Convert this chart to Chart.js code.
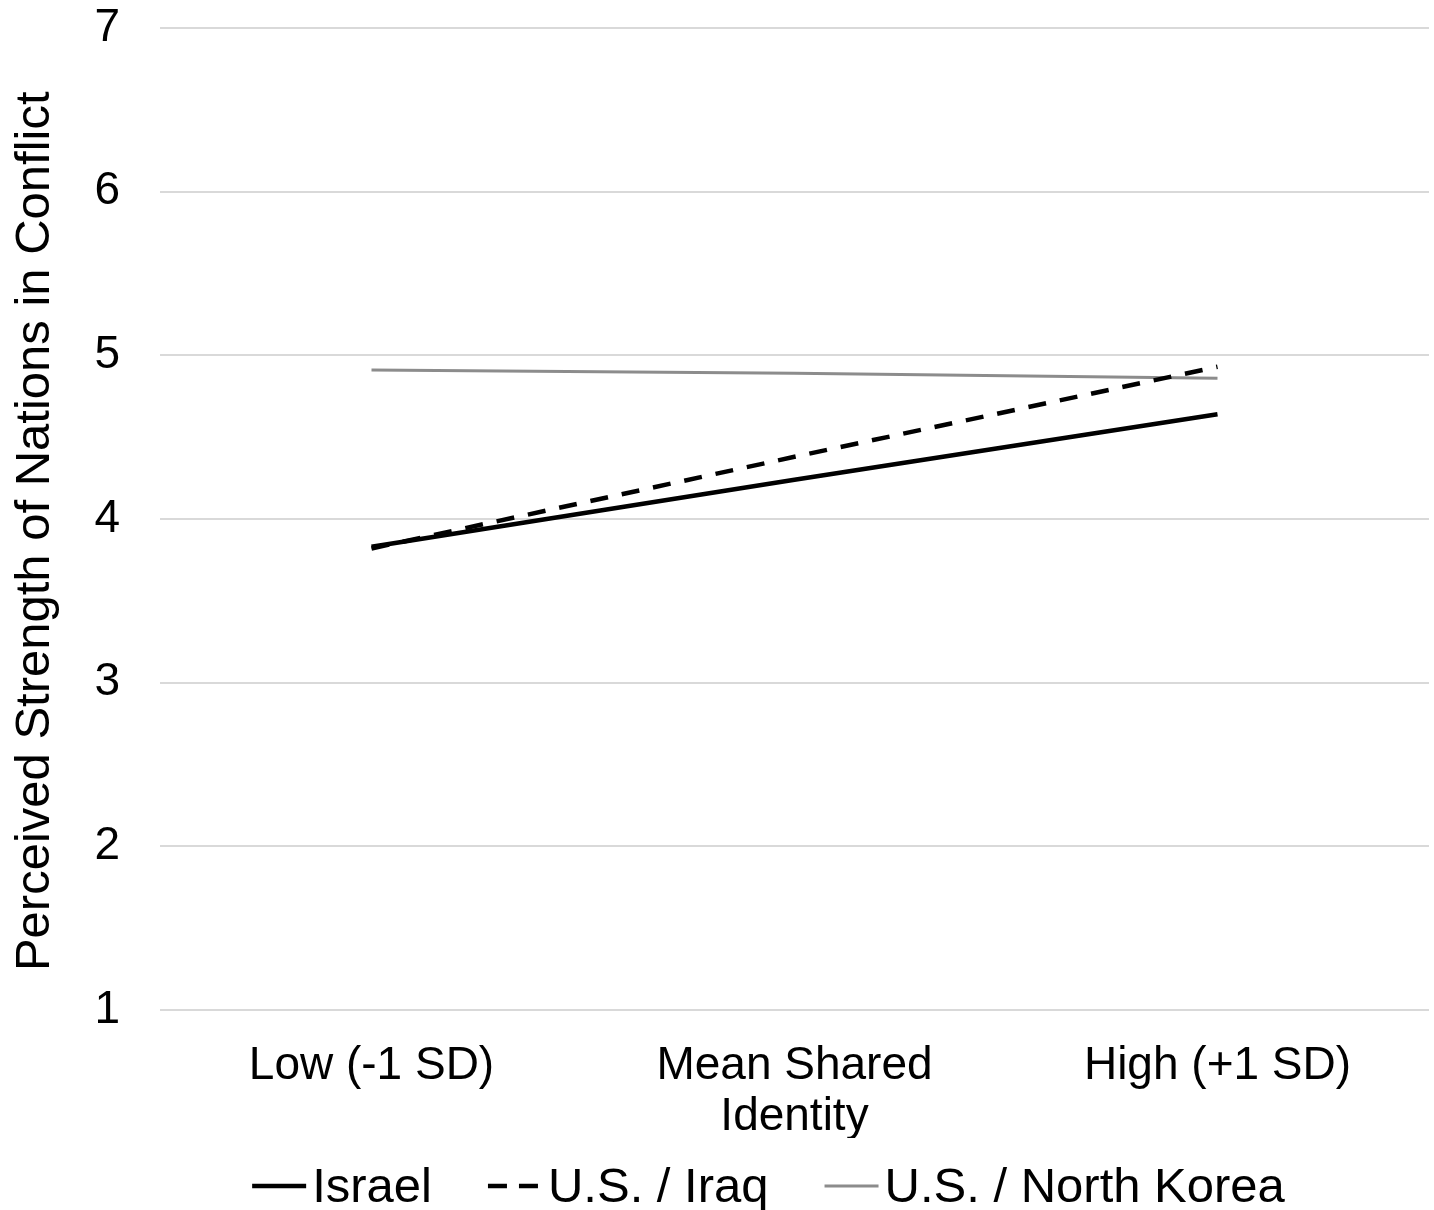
<!DOCTYPE html>
<html>
<head>
<meta charset="utf-8">
<script src="https://cdn.jsdelivr.net/npm/chart.js@4/dist/chart.umd.min.js"></script>
<style>
    html, body { margin: 0; padding: 0; background: #fff; }
    #wrap { width: 1434px; height: 1210px; }
</style>
</head>
<body>
<div id="wrap"><canvas id="chart"></canvas></div>
<script>
// Data
const categories = [['Low (-1 SD)'], ['Mean Shared', 'Identity'], ['High (+1 SD)']];
const israel = [3.83, 4.24, 4.64];
const usIraq = [3.82, 4.38, 4.93];
const usNorthKorea = [4.91, 4.89, 4.86];
const yTicks = [1, 2, 3, 4, 5, 6, 7];

const font = 'Liberation Sans, Arial, Helvetica, sans-serif';

// Legend drawn under the x labels, line sample right against the text
const lineLegend = {
    id: 'lineLegend',
    afterDraw(chart) {
        const c = chart.ctx;
        const area = chart.chartArea;
        const lineLen = 54;
        const textGap = 6;
        const itemGap = 56;
        c.save();
        c.font = '49px ' + font;
        c.textBaseline = 'middle';
        c.textAlign = 'left';
        const items = chart.data.datasets.map(ds => ({
            ds: ds,
            w: c.measureText(ds.label).width
        }));
        let total = 0;
        items.forEach((it, i) => {
            total += lineLen + textGap + it.w + (i < items.length - 1 ? itemGap : 0);
        });
        let x = (area.left + area.right) / 2 - 26 - total / 2;
        const y = chart.height - 24;
        items.forEach(it => {
            c.beginPath();
            c.setLineDash(it.ds.borderDash ? [19, 12] : []);
            c.lineWidth = it.ds.borderWidth;
            c.strokeStyle = it.ds.borderColor;
            c.moveTo(x, y);
            c.lineTo(x + lineLen, y);
            c.stroke();
            c.setLineDash([]);
            x += lineLen + textGap;
            c.fillStyle = '#000';
            c.fillText(it.ds.label, x, y + 2);
            x += it.w + itemGap;
        });
        c.restore();
    }
};

const ctx = document.getElementById('chart').getContext('2d');
new Chart(ctx, {
    type: 'line',
    data: {
        labels: categories,
        datasets: [
            {
                label: 'Israel',
                data: israel,
                borderColor: '#000000',
                borderWidth: 4.5,
                pointRadius: 0,
                tension: 0
            },
            {
                label: 'U.S. / Iraq',
                data: usIraq,
                borderColor: '#000000',
                borderWidth: 4.5,
                borderDash: [18, 14],
                pointRadius: 0,
                tension: 0
            },
            {
                label: 'U.S. / North Korea',
                data: usNorthKorea,
                borderColor: '#8c8c8c',
                borderWidth: 3,
                pointRadius: 0,
                tension: 0
            }
        ]
    },
    options: {
        responsive: true,
        maintainAspectRatio: false,
        animation: false,
        layout: {
            padding: { top: 0, right: 5, left: 6, bottom: 72 }
        },
        plugins: {
            legend: { display: false },
            tooltip: { enabled: false }
        },
        scales: {
            x: {
                offset: true,
                grid: { display: false },
                border: { display: false },
                afterFit: (axis) => {
                    axis.height = 128;
                    axis.paddingLeft = 0;
                    axis.paddingRight = 0;
                },
                ticks: {
                    color: '#000',
                    padding: 23,
                    maxRotation: 0,
                    font: { family: font, size: 46, lineHeight: 1.1 }
                }
            },
            y: {
                min: 1,
                max: 7,
                afterBuildTicks: (axis) => {
                    axis.ticks = yTicks.map(v => ({ value: v }));
                },
                afterFit: (axis) => {
                    axis.width = 154;
                    axis.paddingTop = 28;
                    axis.paddingBottom = 0;
                },
                grid: { color: '#d9d9d9', lineWidth: 2, drawTicks: false },
                border: { display: false },
                ticks: {
                    color: '#000',
                    padding: 40,
                    font: { family: font, size: 46 }
                },
                title: {
                    display: true,
                    // trailing en space nudges the rotated title down a little
                    text: 'Perceived Strength of Nations in Conflict\u2002',
                    color: '#000',
                    padding: { top: 0, bottom: 26 },
                    font: { family: font, size: 49, weight: 'normal', lineHeight: 1.2 }
                }
            }
        }
    },
    plugins: [lineLegend]
});
</script>
</body>
</html>
